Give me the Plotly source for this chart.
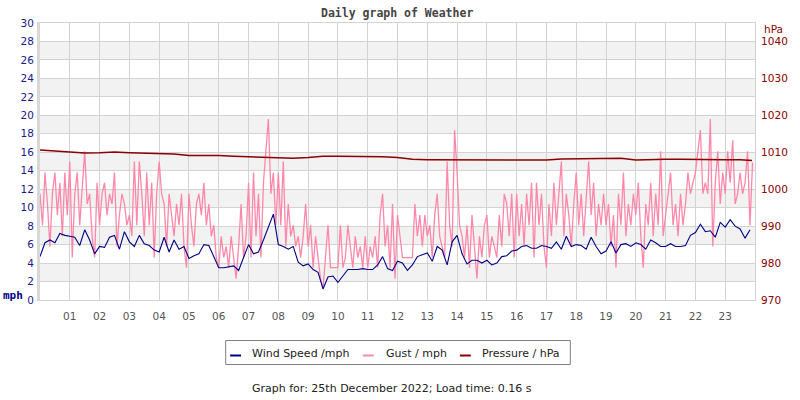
import plotly.graph_objects as go

# ---------------- data ----------------
# wind speed (mph), every 10 minutes from 00:00
WIND = [
    4.7, 6.2, 6.5, 6.2, 7.2, 7.0,
    6.9, 6.8, 5.9, 7.6, 6.5, 5.0,
    5.8, 5.7, 6.8, 7.0, 5.5, 7.4,
    6.3, 5.8, 7.0, 6.1, 5.9, 5.4,
    5.2, 6.8, 5.2, 6.5, 5.5, 5.8,
    4.5, 4.8, 5.0, 6.0, 5.9, 4.6,
    3.5, 3.5, 3.6, 3.7, 3.2, 4.6,
    6.0, 5.0, 5.2, 6.5, 8.0, 9.3,
    6.0, 5.8, 5.5, 5.8, 4.1, 3.7,
    3.9, 3.3, 3.0, 1.2, 2.5, 2.6,
    1.9, 2.6, 3.3, 3.3, 3.3, 3.4,
    3.3, 3.3, 3.8, 4.7, 3.4, 3.2,
    4.2, 4.0, 3.2, 3.8, 4.7, 4.9,
    5.1, 4.2, 5.8, 5.4, 3.8, 6.3,
    7.0, 5.0, 3.9, 4.3, 4.3, 4.0,
    4.3, 3.8, 4.0, 4.7, 4.8, 5.3,
    5.4, 5.8, 5.9, 5.6, 5.6, 5.9,
    5.8, 5.6, 6.3, 5.5, 6.9, 5.8,
    6.0, 5.9, 5.5, 6.8, 5.8, 5.0,
    5.3, 6.3, 5.1, 6.0, 6.1, 5.8,
    6.2, 6.0, 5.5, 6.5, 6.2, 5.8,
    5.8, 6.1, 5.8, 5.8, 5.9, 7.0,
    7.3, 8.2, 7.4, 7.5, 6.8, 8.4,
    7.9, 8.7, 8.0, 7.7, 6.7, 7.6,
]
WIND_STEP_H = 1 / 6

# gust (mph), every 5 minutes from 00:00
GUST = [
    11.5, 8.1, 13.8, 10.4, 5.8, 11.5, 13.8, 9.2, 12.7, 6.9, 13.8, 9.2,
    15.0, 4.6, 11.5, 13.8, 8.1, 12.7, 16.1, 10.4, 11.5, 6.9, 4.6, 12.7,
    8.1, 11.5, 12.7, 9.2, 11.5, 10.4, 13.8, 5.8, 9.2, 11.5, 10.4, 8.1,
    9.2, 6.9, 15.0, 8.1, 15.0, 11.5, 6.9, 13.8, 8.1, 12.7, 4.6, 11.5,
    15.0, 11.5, 10.4, 5.8, 11.5, 9.2, 6.9, 10.4, 8.1, 11.5, 5.8, 3.5,
    11.5, 8.1, 5.8, 10.4, 11.5, 9.2, 12.7, 8.1, 10.4, 6.9, 8.1, 4.6,
    3.5, 6.9, 4.6, 5.8, 3.5, 6.9, 4.6, 2.3, 5.8, 10.4, 4.6, 6.9,
    12.7, 4.6, 13.8, 6.9, 11.5, 4.6, 12.7, 16.1, 19.6, 11.5, 13.8, 8.1,
    13.8, 8.1, 15.0, 5.8, 10.4, 6.9, 8.1, 5.8, 6.9, 4.6, 6.9, 10.4,
    5.8, 8.1, 3.5, 6.9, 4.6, 2.3, 1.2, 4.6, 8.1, 3.5, 3.5, 3.5,
    3.5, 8.1, 3.5, 4.6, 8.1, 5.8, 3.5, 6.9, 4.6, 5.8, 3.5, 6.9,
    3.5, 5.8, 4.6, 6.9, 3.5, 9.2, 11.5, 5.8, 8.1, 3.5, 10.4, 2.3,
    9.2, 6.9, 4.6, 4.6, 4.6, 4.6, 4.6, 10.4, 6.9, 9.2, 5.8, 9.2,
    6.9, 8.1, 4.6, 9.2, 11.5, 6.9, 5.8, 4.6, 15.0, 8.1, 5.8, 18.4,
    13.8, 8.1, 6.9, 4.6, 8.1, 3.5, 9.2, 5.8, 2.3, 6.9, 4.6, 8.1,
    9.2, 4.6, 6.9, 5.8, 4.6, 9.2, 5.8, 11.5, 10.4, 6.9, 11.5, 4.6,
    11.5, 6.9, 10.4, 5.8, 11.5, 8.1, 12.7, 4.6, 12.7, 8.1, 11.5, 5.8,
    3.5, 10.4, 6.9, 12.7, 8.1, 11.5, 15.0, 6.9, 11.5, 9.2, 5.8, 10.4,
    13.8, 8.1, 11.5, 6.9, 11.5, 15.0, 9.2, 12.7, 6.9, 10.4, 8.1, 11.5,
    8.1, 10.4, 5.8, 9.2, 3.5, 11.5, 8.1, 13.8, 6.9, 10.4, 8.1, 11.5,
    9.2, 12.7, 6.9, 3.5, 10.4, 8.1, 12.7, 6.9, 11.5, 8.1, 16.1, 6.9,
    9.2, 11.5, 13.8, 8.1, 10.4, 6.9, 11.5, 8.1, 10.4, 13.8, 11.5, 12.7,
    13.8, 16.1, 18.4, 11.5, 12.7, 11.5, 19.6, 5.8, 12.7, 16.1, 10.4, 13.8,
    11.5, 16.1, 12.7, 17.3, 10.4, 11.5, 13.8, 11.5, 12.7, 16.1, 8.1, 14.9,
]
GUST_STEP_H = 1 / 12

# pressure (hPa), every 30 minutes plus final reading
PRESSURE = [
    1010.6, 1010.3, 1010.1, 1009.8, 1009.9, 1010.1, 1009.9, 1009.8,
    1009.6, 1009.5, 1009.1, 1009.2, 1009.1, 1008.9, 1008.8, 1008.8,
    1008.7, 1008.4, 1008.6, 1008.9, 1008.9, 1008.9, 1008.8, 1008.8,
    1008.6, 1008.1, 1008.0, 1008.0, 1008.0, 1007.9, 1007.8, 1007.9,
    1007.8, 1007.9, 1007.9, 1008.2, 1008.3, 1008.4, 1008.4, 1008.4,
    1007.9, 1008.1, 1008.1, 1008.1, 1008.0, 1008.0, 1008.0, 1008.0,
    1007.8,
]
PRESSURE_T = [i * 0.5 for i in range(48)] + [23.9]

HOUR_TICKS = list(range(1, 24))
HOUR_LABELS = [f"{h:02d}" for h in HOUR_TICKS]
MPH_TICKS = list(range(0, 31, 2))
HPA_TICKS = list(range(970, 1041, 10))

wind_t = [i * WIND_STEP_H for i in range(len(WIND))]
gust_t = [i * GUST_STEP_H for i in range(len(GUST))]

# ---------------- style ----------------
W, H = 800, 400
ML, MR, MT, MB = 40, 38, 23, 100
PW, PH = W - ML - MR, H - MT - MB

def px(x):
    return (x - ML) / PW

def py(y):
    return (H - MB - y) / PH

NAVY = "#000088"
PINK = "#ff88aa"
DRED = "#8b0000"
GRID = "#d3d3d3"
FONT = "DejaVu Sans"
MONO = "DejaVu Sans Mono"

fig = go.Figure()
fig.add_trace(go.Scatter(x=gust_t, y=GUST, mode="lines", name="Gust / mph",
                         line=dict(color=PINK, width=1.3), showlegend=False))
fig.add_trace(go.Scatter(x=wind_t, y=WIND, mode="lines", name="Wind Speed /mph",
                         line=dict(color=NAVY, width=1.1), showlegend=False))
fig.add_trace(go.Scatter(x=PRESSURE_T, y=PRESSURE, mode="lines", name="Pressure / hPa",
                         line=dict(color=DRED, width=1.5), yaxis="y2", showlegend=False))

shapes = []
for k in range(2, 30, 4):
    shapes.append(dict(type="rect", xref="paper", yref="y", x0=0, x1=1, y0=k, y1=k + 2,
                       fillcolor="#f2f2f2", line=dict(width=0), layer="below"))

# manual legend
shapes.append(dict(type="rect", xref="paper", yref="paper",
                   x0=px(227.5), x1=px(575.5), y0=py(340.5), y1=py(364.5),
                   line=dict(color="#808080", width=1), fillcolor="white"))
legend_items = [(232, 243, 252, "Wind Speed /mph", NAVY),
                (366, 377, 387, "Gust / mph", PINK),
                (464, 475, 484, "Pressure / hPa", DRED)]
annotations = []
for x0, x1, xt, label, col in legend_items:
    shapes.append(dict(type="line", xref="paper", yref="paper",
                       x0=px(x0), x1=px(x1), y0=py(355.5), y1=py(355.5),
                       line=dict(color=col, width=2)))
    annotations.append(dict(text=label, xref="paper", yref="paper", x=px(xt), y=py(353),
                            xanchor="left", yanchor="middle", showarrow=False,
                            font=dict(family=FONT, size=11, color="#222222")))

annotations.append(dict(text="Graph for: 25th December 2022; Load time: 0.16 s",
                        xref="paper", yref="paper", x=px(252), y=py(388),
                        xanchor="left", yanchor="middle", showarrow=False,
                        font=dict(family=FONT, size=11, color="#222222")))
annotations.append(dict(text="<b>Daily graph of Weather</b>", xref="paper", yref="paper",
                        x=px(400.5), y=py(13), xanchor="center", yanchor="middle",
                        showarrow=False, font=dict(family=MONO, size=11.5, color="#444444")))
annotations.append(dict(text="hPa", xref="paper", yref="paper", x=px(792), y=py(29),
                        xanchor="right", yanchor="middle", showarrow=False,
                        font=dict(family=FONT, size=10.5, color=DRED)))
annotations.append(dict(text="<b>mph</b>", xref="paper", yref="paper", x=px(1), y=py(295.5),
                        xanchor="left", yanchor="middle", showarrow=False,
                        font=dict(family=MONO, size=11, color=NAVY)))

fig.update_layout(
    width=W, height=H,
    margin=dict(l=ML, r=MR, t=MT, b=MB, pad=0),
    paper_bgcolor="white", plot_bgcolor="white",
    showlegend=False,
    shapes=shapes, annotations=annotations,
    xaxis=dict(range=[0, 24], tickvals=HOUR_TICKS, ticktext=HOUR_LABELS,
               showgrid=True, gridcolor=GRID, gridwidth=1, zeroline=False,
               showline=True, mirror=True, linecolor=GRID, linewidth=1,
               ticks="", ticklabelstandoff=6,
               tickfont=dict(family=FONT, size=10.5, color="#555555")),
    yaxis=dict(range=[0, 30], tickvals=MPH_TICKS, ticktext=[str(v) for v in MPH_TICKS],
               showgrid=True, gridcolor=GRID, gridwidth=1, zeroline=False,
               showline=True, linecolor="#d8d8d8", linewidth=3,
               ticks="", ticklabelstandoff=1,
               tickfont=dict(family=FONT, size=10.5, color="#1a1a8c")),
    yaxis2=dict(range=[970, 1045], overlaying="y", side="right",
                tickvals=HPA_TICKS, ticktext=[str(v) for v in HPA_TICKS],
                showgrid=False, zeroline=False,
                showline=True, linecolor=GRID, linewidth=1,
                ticks="", ticklabelstandoff=3,
                tickfont=dict(family=FONT, size=10.5, color=DRED)),
)

fig.write_html("out.html")
